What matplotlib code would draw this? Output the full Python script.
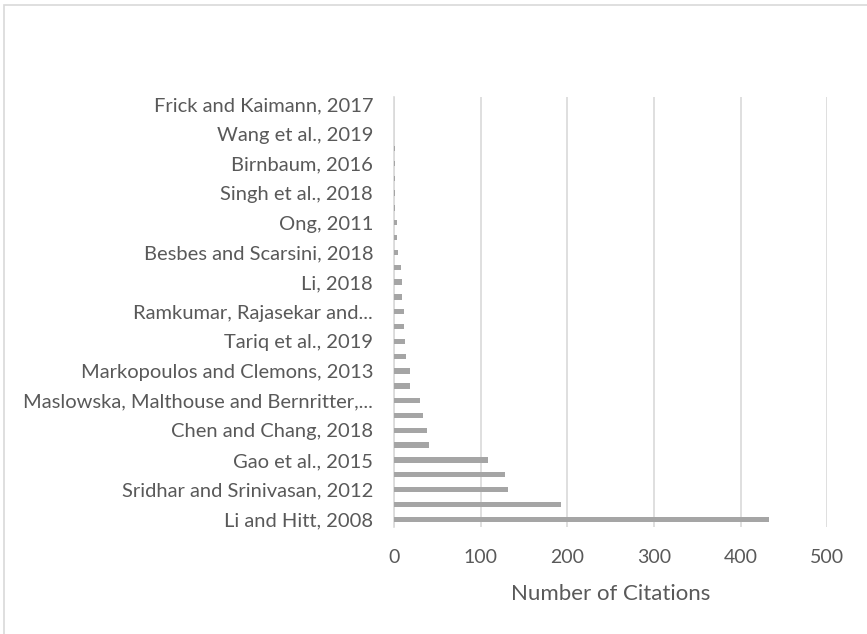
import matplotlib

matplotlib.use("Agg")
import matplotlib.pyplot as plt
from matplotlib.patches import Rectangle

# citation counts, bottom bar first
citations = [433, 193, 132, 128, 109, 41, 38, 33, 30, 19,
             18, 14, 13, 12, 12, 9, 9, 8, 5, 4,
             3, 1, 1, 1, 1, 1, 0, 0, 0]

# only every second category carries a visible label
labels = [
    "Li and Hitt, 2008",
    "Sridhar and Srinivasan, 2012",
    "Gao et al., 2015",
    "Chen and Chang, 2018",
    "Maslowska, Malthouse and Bernritter,...",
    "Markopoulos and Clemons, 2013",
    "Tariq et al., 2019",
    "Ramkumar, Rajasekar and...",
    "Li, 2018",
    "Besbes and Scarsini, 2018",
    "Ong, 2011",
    "Singh et al., 2018",
    "Birnbaum, 2016",
    "Wang et al., 2019",
    "Frick and Kaimann, 2017",
]
x_ticks = [0, 100, 200, 300, 400, 500]

text_color = "#595959"
grid_color = "#d9d9d9"
bar_color = "#a5a5a5"

plt.rcParams["font.family"] = ["Lato", "DejaVu Sans"]

figure = plt.figure(figsize=(8.67, 6.34), dpi=100)
axis = figure.add_axes([0.4544, 0.1692, 0.4998, 0.6783])

positions = list(range(len(citations)))
axis.barh(positions, citations, height=0.36, color=bar_color, zorder=3)

axis.set_xlim(0, 500)
axis.set_ylim(-0.5, len(citations) - 0.5)
axis.set_xticks(x_ticks)
axis.set_xticklabels([str(t) for t in x_ticks], fontsize=14, color=text_color)
axis.set_yticks(positions[::2])
axis.set_yticklabels(labels, fontsize=14.5, color=text_color)
axis.tick_params(axis="both", length=0)
axis.tick_params(axis="y", pad=15)
axis.tick_params(axis="x", pad=16)
axis.set_xlabel("Number of Citations", fontsize=16, color=text_color, labelpad=13)

axis.grid(axis="x", color=grid_color, linewidth=1.2, zorder=0)
for side in ("top", "right", "bottom"):
    axis.spines[side].set_visible(False)
axis.spines["left"].set_color(grid_color)
axis.spines["left"].set_linewidth(1.2)

# chart area frame
figure.patches.append(Rectangle((4 / 867, -0.01), 1.0, 1 - 5 / 634 + 0.01,
                                transform=figure.transFigure, fill=False,
                                edgecolor=grid_color, linewidth=1.2))

figure.savefig("out.png", dpi=100)
plt.close(figure)
